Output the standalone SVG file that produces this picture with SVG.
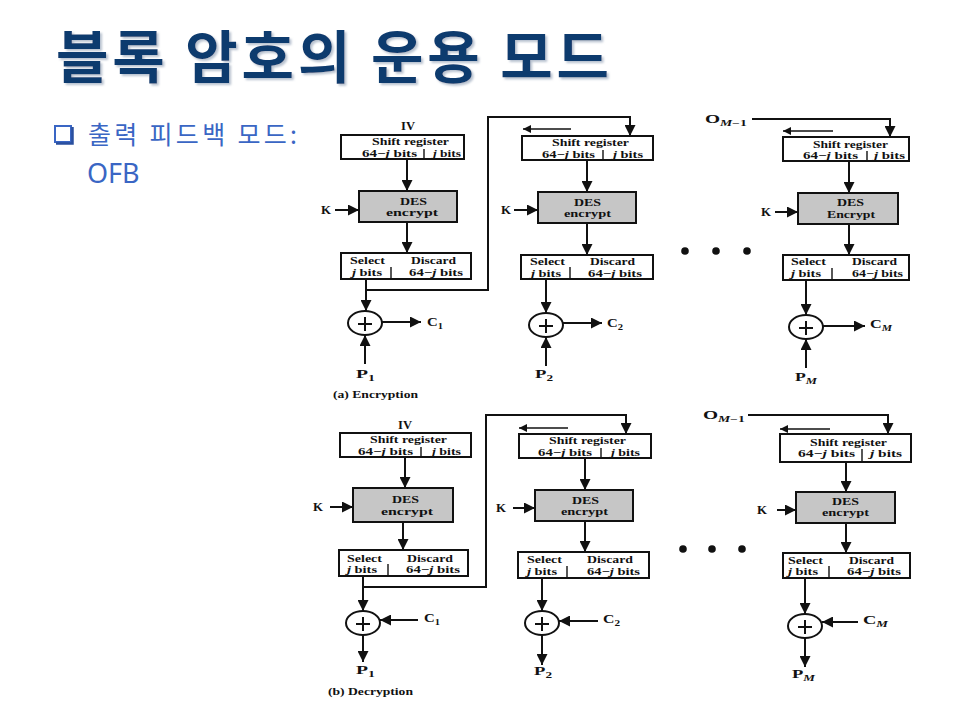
<svg xmlns="http://www.w3.org/2000/svg" width="960" height="720" viewBox="0 0 960 720">
<defs>
<style>
.t{font-family:"Liberation Serif","Times New Roman",serif;font-weight:bold;font-size:11px;fill:#111}
.box{fill:#fff;stroke:#111;stroke-width:2}
.des{fill:#c6c6c6;stroke:#111;stroke-width:2}
.ln{fill:none;stroke:#111;stroke-width:2}
.sm{fill:none;stroke:#111;stroke-width:1.4}
.xor{fill:#fff;stroke:#111;stroke-width:2}
.sub{font-size:8.5px}
.it{font-style:italic}
.lbl{font-family:"Liberation Serif","Times New Roman",serif;font-weight:bold;font-size:12px;fill:#111}
.dot{fill:#111}
</style>
<marker id="ah" viewBox="0 0 10 10" refX="10" refY="5" markerWidth="11" markerHeight="11" markerUnits="userSpaceOnUse" orient="auto"><path d="M0,0 L10,5 L0,10 z" fill="#111"/></marker>
<marker id="as" viewBox="0 0 10 10" refX="10" refY="5" markerWidth="8" markerHeight="8" markerUnits="userSpaceOnUse" orient="auto"><path d="M0,0 L10,5 L0,10 z" fill="#111"/></marker>
<filter id="sh" x="-5%" y="-20%" width="110%" height="150%"><feDropShadow dx="2" dy="2" stdDeviation="1" flood-color="#9aa8bb" flood-opacity="0.7"/></filter>
</defs>
<rect width="960" height="720" fill="#fff"/>

<g id="title">
<text x="56" y="78" font-family="'Noto Sans CJK KR','Noto Sans',sans-serif" font-weight="bold" font-size="57" fill="#0f3b6e" textLength="553" filter="url(#sh)">블록 암호의 운용 모드</text>
</g>

<g id="bullet">
<rect x="55" y="126" width="16" height="16" fill="#fff" stroke="#3a66c4" stroke-width="2"/>
<path d="M56,143.5 L72.5,143.5 L72.5,127" fill="none" stroke="#2a4f9e" stroke-width="2.5"/>
<text x="88" y="144" font-family="'Noto Sans CJK KR','Noto Sans',sans-serif" font-size="25" fill="#3a66c4" textLength="209">출력 피드백 모드:</text>
<text x="87" y="183" font-family="'Noto Sans','Noto Sans CJK KR',sans-serif" font-size="27" fill="#3a66c4">OFB</text>
</g>

<g id="connectors">
<line class="ln" x1="407" y1="159" x2="407" y2="191" marker-end="url(#ah)"/>
<line class="ln" x1="335" y1="210" x2="359" y2="210" marker-end="url(#ah)"/>
<line class="ln" x1="407" y1="222" x2="407" y2="253" marker-end="url(#ah)"/>
<line class="ln" x1="366" y1="279" x2="366" y2="311" marker-end="url(#ah)"/>
<polyline class="ln" points="366,290 488,290 488,117 630,117 630,136" marker-end="url(#ah)"/>
<line class="ln" x1="382" y1="322" x2="421" y2="322" marker-end="url(#ah)"/>
<line class="ln" x1="365" y1="364" x2="365" y2="335" marker-end="url(#ah)"/>
<line class="sm" x1="571" y1="129" x2="523" y2="129" marker-end="url(#as)"/>
<line class="ln" x1="587" y1="160" x2="587" y2="192" marker-end="url(#ah)"/>
<line class="ln" x1="514" y1="210" x2="538" y2="210" marker-end="url(#ah)"/>
<line class="ln" x1="587" y1="223" x2="587" y2="255" marker-end="url(#ah)"/>
<line class="ln" x1="546" y1="279" x2="546" y2="313" marker-end="url(#ah)"/>
<line class="ln" x1="563" y1="323" x2="602" y2="323" marker-end="url(#ah)"/>
<line class="ln" x1="546" y1="366" x2="546" y2="337" marker-end="url(#ah)"/>
<polyline class="ln" points="752,119 890,119 890,137" marker-end="url(#ah)"/>
<line class="sm" x1="833" y1="131" x2="783" y2="131" marker-end="url(#as)"/>
<line class="ln" x1="849" y1="161" x2="849" y2="193" marker-end="url(#ah)"/>
<line class="ln" x1="775" y1="212" x2="798" y2="212" marker-end="url(#ah)"/>
<line class="ln" x1="849" y1="224" x2="849" y2="255" marker-end="url(#ah)"/>
<line class="ln" x1="806" y1="280" x2="806" y2="315" marker-end="url(#ah)"/>
<line class="ln" x1="823" y1="326" x2="865" y2="326" marker-end="url(#ah)"/>
<line class="ln" x1="806" y1="368" x2="806" y2="339" marker-end="url(#ah)"/>
<line class="ln" x1="405" y1="457" x2="405" y2="488" marker-end="url(#ah)"/>
<line class="ln" x1="330" y1="507" x2="353" y2="507" marker-end="url(#ah)"/>
<line class="ln" x1="403" y1="522" x2="403" y2="550" marker-end="url(#ah)"/>
<line class="ln" x1="363" y1="576" x2="363" y2="611" marker-end="url(#ah)"/>
<polyline class="ln" points="363,587 486,587 486,415 626,415 626,434" marker-end="url(#ah)"/>
<line class="ln" x1="418" y1="620" x2="380" y2="620" marker-end="url(#ah)"/>
<line class="ln" x1="363" y1="635" x2="363" y2="662" marker-end="url(#ah)"/>
<line class="sm" x1="568" y1="428" x2="519" y2="428" marker-end="url(#as)"/>
<line class="ln" x1="585" y1="458" x2="585" y2="490" marker-end="url(#ah)"/>
<line class="ln" x1="513" y1="508" x2="535" y2="508" marker-end="url(#ah)"/>
<line class="ln" x1="585" y1="521" x2="585" y2="552" marker-end="url(#ah)"/>
<line class="ln" x1="542" y1="578" x2="542" y2="611" marker-end="url(#ah)"/>
<line class="ln" x1="598" y1="621" x2="559" y2="621" marker-end="url(#ah)"/>
<line class="ln" x1="542" y1="635" x2="542" y2="665" marker-end="url(#ah)"/>
<polyline class="ln" points="748,415 888,415 888,434" marker-end="url(#ah)"/>
<line class="sm" x1="830" y1="429" x2="780" y2="429" marker-end="url(#as)"/>
<line class="ln" x1="846" y1="462" x2="846" y2="492" marker-end="url(#ah)"/>
<line class="ln" x1="777" y1="510" x2="796" y2="510" marker-end="url(#ah)"/>
<line class="ln" x1="846" y1="523" x2="846" y2="553" marker-end="url(#ah)"/>
<line class="ln" x1="805" y1="578" x2="805" y2="614" marker-end="url(#ah)"/>
<line class="ln" x1="858" y1="622" x2="822" y2="622" marker-end="url(#ah)"/>
<line class="ln" x1="805" y1="638" x2="805" y2="667" marker-end="url(#ah)"/>
</g>

<!-- ===== Encryption ===== -->
<g id="enc-iv"><text class="lbl" x="401" y="130" textLength="14" lengthAdjust="spacingAndGlyphs">IV</text></g>
<g id="enc-sr1">
<rect class="box" x="341" y="135" width="123" height="24"/>
<line class="sm" x1="424" y1="149" x2="424" y2="159"/>
<text class="t" x="372" y="145" textLength="77" lengthAdjust="spacingAndGlyphs">Shift register</text>
<text class="t" x="362" y="156.5" textLength="55" lengthAdjust="spacingAndGlyphs">64−<tspan class="it">j</tspan> bits</text>
<text class="t" x="433" y="156.5" textLength="28" lengthAdjust="spacingAndGlyphs"><tspan class="it">j</tspan> bits</text>
</g>
<g id="enc-des1">
<rect class="des" x="359" y="191" width="98" height="31"/>
<text class="t" x="400" y="204.5" textLength="27" lengthAdjust="spacingAndGlyphs">DES</text>
<text class="t" x="386" y="216" textLength="52" lengthAdjust="spacingAndGlyphs">encrypt</text>
</g>
<g id="enc-k1"><text class="lbl" x="321" y="214" textLength="10" lengthAdjust="spacingAndGlyphs">K</text></g>
<g id="enc-sel1">
<rect class="box" x="341" y="253" width="130" height="26"/>
<line class="sm" x1="391" y1="267" x2="391" y2="279"/>
<text class="t" x="350" y="264" textLength="35" lengthAdjust="spacingAndGlyphs">Select</text>
<text class="t" x="411" y="264" textLength="45" lengthAdjust="spacingAndGlyphs">Discard</text>
<text class="t" x="352" y="275.5" textLength="30" lengthAdjust="spacingAndGlyphs"><tspan class="it">j</tspan> bits</text>
<text class="t" x="409" y="275.5" textLength="54" lengthAdjust="spacingAndGlyphs">64−<tspan class="it">j</tspan> bits</text>
</g>
<g id="enc-xor1">
<ellipse class="xor" cx="365" cy="323" rx="17" ry="12"/>
<path class="ln" d="M358,324 H372 M365,317 V331"/>
</g>
<g id="enc-c1"><text class="lbl" x="427" y="326" textLength="16" lengthAdjust="spacingAndGlyphs">C<tspan class="sub" dy="3">1</tspan></text></g>
<g id="enc-p1"><text class="lbl" x="356" y="378" textLength="19" lengthAdjust="spacingAndGlyphs">P<tspan class="sub" dy="3">1</tspan></text></g>
<g id="enc-cap"><text class="t" x="333" y="398" textLength="85" lengthAdjust="spacingAndGlyphs">(a) Encryption</text></g>

<g id="enc-sr2">
<rect class="box" x="522" y="136" width="131" height="24"/>
<line class="sm" x1="603" y1="150" x2="603" y2="160"/>
<text class="t" x="552" y="146" textLength="77" lengthAdjust="spacingAndGlyphs">Shift register</text>
<text class="t" x="542" y="157.5" textLength="53" lengthAdjust="spacingAndGlyphs">64−<tspan class="it">j</tspan> bits</text>
<text class="t" x="613" y="157.5" textLength="30" lengthAdjust="spacingAndGlyphs"><tspan class="it">j</tspan> bits</text>
</g>
<g id="enc-des2">
<rect class="des" x="538" y="192" width="98" height="31"/>
<text class="t" x="574" y="205.5" textLength="27" lengthAdjust="spacingAndGlyphs">DES</text>
<text class="t" x="564" y="217" textLength="47" lengthAdjust="spacingAndGlyphs">encrypt</text>
</g>
<g id="enc-k2"><text class="lbl" x="501" y="214" textLength="10" lengthAdjust="spacingAndGlyphs">K</text></g>
<g id="enc-sel2">
<rect class="box" x="521" y="255" width="132" height="24"/>
<line class="sm" x1="570" y1="267" x2="570" y2="279"/>
<text class="t" x="530" y="265" textLength="35" lengthAdjust="spacingAndGlyphs">Select</text>
<text class="t" x="590" y="265" textLength="45" lengthAdjust="spacingAndGlyphs">Discard</text>
<text class="t" x="531" y="276.5" textLength="30" lengthAdjust="spacingAndGlyphs"><tspan class="it">j</tspan> bits</text>
<text class="t" x="588" y="276.5" textLength="54" lengthAdjust="spacingAndGlyphs">64−<tspan class="it">j</tspan> bits</text>
</g>
<g id="enc-xor2">
<ellipse class="xor" cx="546" cy="325" rx="17" ry="12"/>
<path class="ln" d="M539,326 H553 M546,319 V333"/>
</g>
<g id="enc-c2"><text class="lbl" x="607" y="327" textLength="16" lengthAdjust="spacingAndGlyphs">C<tspan class="sub" dy="3">2</tspan></text></g>
<g id="enc-p2"><text class="lbl" x="535" y="378" textLength="18" lengthAdjust="spacingAndGlyphs">P<tspan class="sub" dy="3">2</tspan></text></g>

<g id="enc-om"><text class="lbl" x="705" y="123" textLength="42" lengthAdjust="spacingAndGlyphs">O<tspan class="sub it" dy="3">M</tspan><tspan class="sub">−1</tspan></text></g>
<g id="enc-sr3">
<rect class="box" x="783" y="137" width="126" height="24"/>
<line class="sm" x1="867" y1="151" x2="867" y2="161"/>
<text class="t" x="813" y="147.5" textLength="75" lengthAdjust="spacingAndGlyphs">Shift register</text>
<text class="t" x="803" y="158.5" textLength="55" lengthAdjust="spacingAndGlyphs">64−<tspan class="it">j</tspan> bits</text>
<text class="t" x="874" y="158.5" textLength="31" lengthAdjust="spacingAndGlyphs"><tspan class="it">j</tspan> bits</text>
</g>
<g id="enc-des3">
<rect class="des" x="798" y="193" width="100" height="31"/>
<text class="t" x="837" y="206" textLength="27" lengthAdjust="spacingAndGlyphs">DES</text>
<text class="t" x="827" y="217.5" textLength="48" lengthAdjust="spacingAndGlyphs">Encrypt</text>
</g>
<g id="enc-k3"><text class="lbl" x="761" y="216" textLength="10" lengthAdjust="spacingAndGlyphs">K</text></g>
<g id="enc-sel3">
<rect class="box" x="783" y="255" width="126" height="25"/>
<line class="sm" x1="832" y1="268" x2="832" y2="280"/>
<text class="t" x="791" y="265" textLength="35" lengthAdjust="spacingAndGlyphs">Select</text>
<text class="t" x="852" y="265" textLength="45" lengthAdjust="spacingAndGlyphs">Discard</text>
<text class="t" x="791" y="276.5" textLength="30" lengthAdjust="spacingAndGlyphs"><tspan class="it">j</tspan> bits</text>
<text class="t" x="852" y="276.5" textLength="51" lengthAdjust="spacingAndGlyphs">64−<tspan class="it">j</tspan> bits</text>
</g>
<g id="enc-dots">
<circle class="dot" cx="685" cy="251" r="3.8"/>
<circle class="dot" cx="716" cy="251" r="3.8"/>
<circle class="dot" cx="747" cy="251" r="3.8"/>
</g>
<g id="enc-xor3">
<ellipse class="xor" cx="806" cy="327" rx="17" ry="12"/>
<path class="ln" d="M799,328 H813 M806,321 V335"/>
</g>
<g id="enc-cm"><text class="lbl" x="870" y="328" textLength="22" lengthAdjust="spacingAndGlyphs">C<tspan class="sub it" dy="3">M</tspan></text></g>
<g id="enc-pm"><text class="lbl" x="795" y="381" textLength="22" lengthAdjust="spacingAndGlyphs">P<tspan class="sub it" dy="3">M</tspan></text></g>

<!-- ===== Decryption ===== -->
<g id="dec-iv"><text class="lbl" x="398" y="429" textLength="14" lengthAdjust="spacingAndGlyphs">IV</text></g>
<g id="dec-sr1">
<rect class="box" x="340" y="433" width="131" height="24"/>
<line class="sm" x1="421" y1="447" x2="421" y2="457"/>
<text class="t" x="370" y="443" textLength="77" lengthAdjust="spacingAndGlyphs">Shift register</text>
<text class="t" x="358" y="454.5" textLength="55" lengthAdjust="spacingAndGlyphs">64−<tspan class="it">j</tspan> bits</text>
<text class="t" x="432" y="454.5" textLength="29" lengthAdjust="spacingAndGlyphs"><tspan class="it">j</tspan> bits</text>
</g>
<g id="dec-des1">
<rect class="des" x="353" y="488" width="100" height="34"/>
<text class="t" x="392" y="503" textLength="27" lengthAdjust="spacingAndGlyphs">DES</text>
<text class="t" x="381" y="514.5" textLength="52" lengthAdjust="spacingAndGlyphs">encrypt</text>
</g>
<g id="dec-k1"><text class="lbl" x="313" y="511" textLength="10" lengthAdjust="spacingAndGlyphs">K</text></g>
<g id="dec-sel1">
<rect class="box" x="339" y="550" width="129" height="26"/>
<line class="sm" x1="388" y1="564" x2="388" y2="576"/>
<text class="t" x="347" y="561.5" textLength="35" lengthAdjust="spacingAndGlyphs">Select</text>
<text class="t" x="407" y="561.5" textLength="46" lengthAdjust="spacingAndGlyphs">Discard</text>
<text class="t" x="347" y="573" textLength="30" lengthAdjust="spacingAndGlyphs"><tspan class="it">j</tspan> bits</text>
<text class="t" x="406" y="573" textLength="54" lengthAdjust="spacingAndGlyphs">64−<tspan class="it">j</tspan> bits</text>
</g>
<g id="dec-xor1">
<ellipse class="xor" cx="363" cy="623" rx="17" ry="12"/>
<path class="ln" d="M356,624 H370 M363,617 V631"/>
</g>
<g id="dec-c1"><text class="lbl" x="424" y="622" textLength="16" lengthAdjust="spacingAndGlyphs">C<tspan class="sub" dy="3">1</tspan></text></g>
<g id="dec-p1"><text class="lbl" x="356" y="674" textLength="19" lengthAdjust="spacingAndGlyphs">P<tspan class="sub" dy="3">1</tspan></text></g>
<g id="dec-cap"><text class="t" x="328" y="695" textLength="85" lengthAdjust="spacingAndGlyphs">(b) Decryption</text></g>

<g id="dec-sr2">
<rect class="box" x="519" y="434" width="132" height="24"/>
<line class="sm" x1="601" y1="448" x2="601" y2="458"/>
<text class="t" x="549" y="444" textLength="77" lengthAdjust="spacingAndGlyphs">Shift register</text>
<text class="t" x="538" y="455.5" textLength="54" lengthAdjust="spacingAndGlyphs">64−<tspan class="it">j</tspan> bits</text>
<text class="t" x="611" y="455.5" textLength="29" lengthAdjust="spacingAndGlyphs"><tspan class="it">j</tspan> bits</text>
</g>
<g id="dec-des2">
<rect class="des" x="535" y="490" width="98" height="31"/>
<text class="t" x="572" y="503.5" textLength="27" lengthAdjust="spacingAndGlyphs">DES</text>
<text class="t" x="561" y="515" textLength="47" lengthAdjust="spacingAndGlyphs">encrypt</text>
</g>
<g id="dec-k2"><text class="lbl" x="496" y="512" textLength="10" lengthAdjust="spacingAndGlyphs">K</text></g>
<g id="dec-sel2">
<rect class="box" x="518" y="552" width="131" height="26"/>
<line class="sm" x1="567" y1="566" x2="567" y2="578"/>
<text class="t" x="527" y="563" textLength="35" lengthAdjust="spacingAndGlyphs">Select</text>
<text class="t" x="587" y="563" textLength="46" lengthAdjust="spacingAndGlyphs">Discard</text>
<text class="t" x="527" y="574.5" textLength="30" lengthAdjust="spacingAndGlyphs"><tspan class="it">j</tspan> bits</text>
<text class="t" x="587" y="574.5" textLength="53" lengthAdjust="spacingAndGlyphs">64−<tspan class="it">j</tspan> bits</text>
</g>
<g id="dec-xor2">
<ellipse class="xor" cx="542" cy="623" rx="17" ry="12"/>
<path class="ln" d="M535,624 H549 M542,617 V631"/>
</g>
<g id="dec-c2"><text class="lbl" x="603" y="623" textLength="17" lengthAdjust="spacingAndGlyphs">C<tspan class="sub" dy="3">2</tspan></text></g>
<g id="dec-p2"><text class="lbl" x="534" y="675" textLength="18" lengthAdjust="spacingAndGlyphs">P<tspan class="sub" dy="3">2</tspan></text></g>

<g id="dec-om"><text class="lbl" x="703" y="419" textLength="42" lengthAdjust="spacingAndGlyphs">O<tspan class="sub it" dy="3">M</tspan><tspan class="sub">−1</tspan></text></g>
<g id="dec-sr3">
<rect class="box" x="780" y="434" width="131" height="28"/>
<line class="sm" x1="862" y1="449" x2="862" y2="462"/>
<text class="t" x="810" y="445.5" textLength="77" lengthAdjust="spacingAndGlyphs">Shift register</text>
<text class="t" x="798" y="457" textLength="57" lengthAdjust="spacingAndGlyphs">64−<tspan class="it">j</tspan> bits</text>
<text class="t" x="870" y="457" textLength="32" lengthAdjust="spacingAndGlyphs"><tspan class="it">j</tspan> bits</text>
</g>
<g id="dec-des3">
<rect class="des" x="796" y="492" width="99" height="31"/>
<text class="t" x="832" y="504.5" textLength="27" lengthAdjust="spacingAndGlyphs">DES</text>
<text class="t" x="822" y="516" textLength="47" lengthAdjust="spacingAndGlyphs">encrypt</text>
</g>
<g id="dec-k3"><text class="lbl" x="757" y="514" textLength="10" lengthAdjust="spacingAndGlyphs">K</text></g>
<g id="dec-sel3">
<rect class="box" x="783" y="553" width="127" height="25"/>
<line class="sm" x1="829" y1="566" x2="829" y2="578"/>
<text class="t" x="788" y="563.5" textLength="35" lengthAdjust="spacingAndGlyphs">Select</text>
<text class="t" x="849" y="563.5" textLength="45" lengthAdjust="spacingAndGlyphs">Discard</text>
<text class="t" x="788" y="575" textLength="30" lengthAdjust="spacingAndGlyphs"><tspan class="it">j</tspan> bits</text>
<text class="t" x="847" y="575" textLength="54" lengthAdjust="spacingAndGlyphs">64−<tspan class="it">j</tspan> bits</text>
</g>
<g id="dec-dots">
<circle class="dot" cx="683" cy="549" r="3.8"/>
<circle class="dot" cx="712" cy="549" r="3.8"/>
<circle class="dot" cx="742" cy="549" r="3.8"/>
</g>
<g id="dec-xor3">
<ellipse class="xor" cx="805" cy="626" rx="17" ry="12"/>
<path class="ln" d="M798,627 H812 M805,620 V634"/>
</g>
<g id="dec-cm"><text class="lbl" x="863" y="624" textLength="25" lengthAdjust="spacingAndGlyphs">C<tspan class="sub it" dy="3">M</tspan></text></g>
<g id="dec-pm"><text class="lbl" x="792" y="678" textLength="23" lengthAdjust="spacingAndGlyphs">P<tspan class="sub it" dy="3">M</tspan></text></g>
</svg>
